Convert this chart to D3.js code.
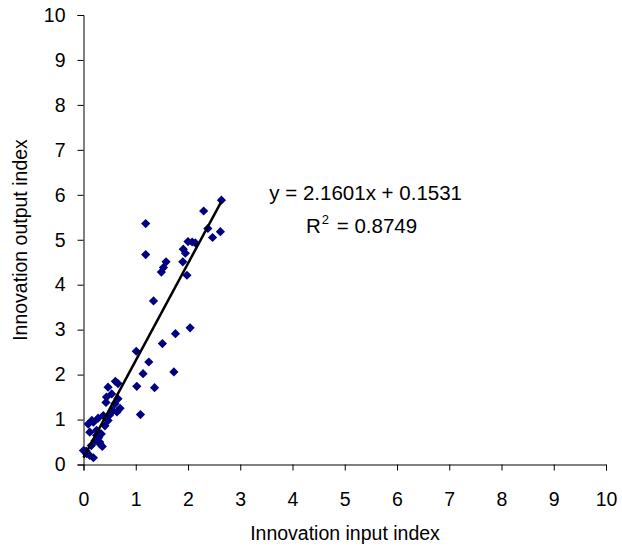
<!DOCTYPE html>
<html>
<head>
<meta charset="utf-8">
<script src="https://cdn.jsdelivr.net/npm/d3@7"></script>
<style>
  html, body { margin: 0; padding: 0; background: #fff; }
  svg text { font-family: "Liberation Sans", Arial, sans-serif; fill: #000; }
</style>
</head>
<body>
<svg id="chart" width="622" height="549"></svg>
<script>
// Innovation input vs output index for each country
const inputIndex = [
  2.64, 2.30, 1.19, 2.38, 2.62, 2.47, 2.00, 2.14, 2.08, 1.91, 1.95, 1.19, 1.90, 1.58,
  1.53, 1.49, 1.98, 1.34, 2.04, 1.76, 1.51, 1.01, 1.25, 1.73, 1.14, 1.02, 1.36, 1.09,
  0.61, 0.47, 0.66, 0.44, 0.54, 0.66, 0.60, 0.70, 0.64, 0.38, 0.50, 0.28, 0.19, 0.09,
  0.47, 0.41, 0.12, 0.25, 0.34, 0.22, 0.31, 0.15, 0.00, 0.12, 0.19, 0.06, 0.25, 0.43,
  0.36, 0.16, 0.32, 0.56, 0.29, 0.05
];
const outputIndex = [
  5.88, 5.64, 5.36, 5.25, 5.18, 5.05, 4.96, 4.93, 4.95, 4.79, 4.70, 4.67, 4.51, 4.51,
  4.38, 4.28, 4.21, 3.64, 3.04, 2.91, 2.69, 2.52, 2.28, 2.06, 2.02, 1.74, 1.71, 1.11,
  1.85, 1.72, 1.80, 1.50, 1.57, 1.46, 1.35, 1.25, 1.17, 1.09, 1.10, 1.03, 0.94, 0.90,
  0.98, 0.86, 0.72, 0.76, 0.68, 0.53, 0.50, 0.42, 0.31, 0.20, 0.15, 0.24, 0.65, 1.38,
  0.40, 0.98, 0.45, 1.20, 0.60, 0.30
];
const xTicks = [0, 1, 2, 3, 4, 5, 6, 7, 8, 9, 10];
const yTicks = [0, 1, 2, 3, 4, 5, 6, 7, 8, 9, 10];
const slope = 2.1601, intercept = 0.1531, rSquared = 0.8749;

const svg = d3.select("#chart");
const x = d3.scaleLinear().domain([0, 10]).range([83.5, 606]);
const y = d3.scaleLinear().domain([0, 10]).range([464.5, 15]);
const fontSize = 19.5;

// axes
const xAxis = svg.append("g").attr("transform", `translate(0,${y(0)})`)
  .call(d3.axisBottom(x).tickValues(xTicks).tickSize(6).tickPadding(22).tickFormat(d3.format("d")));
const yAxis = svg.append("g").attr("transform", `translate(${x(0)},0)`)
  .call(d3.axisLeft(y).tickValues(yTicks).tickSize(6).tickPadding(12).tickFormat(d3.format("d")));
[xAxis, yAxis].forEach(g => {
  g.selectAll("path.domain").attr("stroke", "#000").attr("stroke-width", 1);
  g.selectAll(".tick line").attr("stroke", "#000");
  g.selectAll(".tick text").attr("font-size", fontSize)
    .attr("font-family", "Liberation Sans, Arial, sans-serif").attr("fill", "#000");
});

// data points as navy diamonds
const pts = inputIndex.map((v, i) => [v, outputIndex[i]]);
const r = 4.6;
svg.append("g").selectAll("path").data(pts).join("path")
  .attr("d", `M0,${-r}L${r},0L0,${r}L${-r},0Z`)
  .attr("transform", d => `translate(${x(d[0])},${y(d[1])})`)
  .attr("fill", "#000080");

// linear trend line over the data range
const [xMin, xMax] = d3.extent(inputIndex);
svg.append("line")
  .attr("x1", x(xMin)).attr("y1", y(slope * xMin + intercept))
  .attr("x2", x(xMax)).attr("y2", y(slope * xMax + intercept))
  .attr("stroke", "#000").attr("stroke-width", 2.5);

// trend equation
svg.append("text").attr("x", 462).attr("y", 200).attr("font-size", 20.5)
  .attr("text-anchor", "end")
  .text(`y = ${slope}x + ${intercept}`);
const r2 = svg.append("text").attr("x", 306).attr("y", 233).attr("font-size", 20.5);
r2.append("tspan").text("R");
r2.append("tspan").attr("font-size", 13).attr("dx", 1).attr("dy", -9).text("2");
r2.append("tspan").attr("dx", 2).attr("dy", 9).text(` = ${rSquared}`);

// axis titles
svg.append("text").attr("x", 345).attr("y", 540).attr("text-anchor", "middle")
  .attr("font-size", fontSize).text("Innovation input index");
svg.append("text").attr("transform", "translate(27,240) rotate(-90)").attr("text-anchor", "middle")
  .attr("font-size", fontSize).text("Innovation output index");
</script>
</body>
</html>
